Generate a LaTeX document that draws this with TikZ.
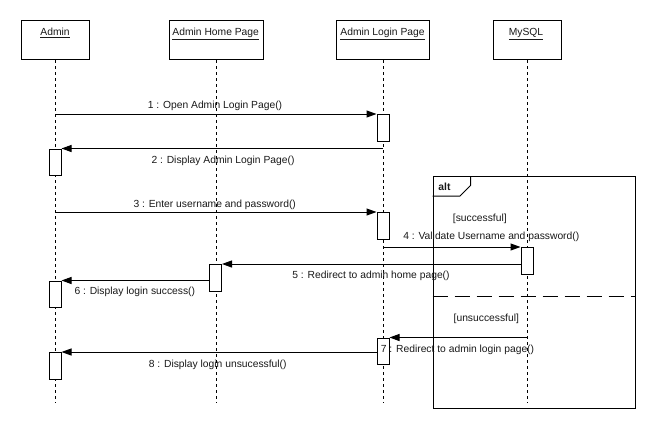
\documentclass[tikz,border=0pt]{standalone}
\usepackage{fontspec}
\setmainfont{Liberation Sans}
\usetikzlibrary{arrows.meta}
\begin{document}
\begin{tikzpicture}[x=1pt,y=-1pt,
  every node/.style={font=\fontsize{10.3}{12}\selectfont, text=black!90},
  head/.style={draw, line width=1pt, fill=white, minimum height=39pt, inner sep=0pt, anchor=north},
  headtext/.style={anchor=base, inner sep=0pt},
  lifeline/.style={line width=0.8pt, dash pattern=on 3pt off 3pt},
  act/.style={draw, line width=1pt, fill=white, minimum width=12pt, minimum height=26.5pt, inner sep=0pt, anchor=north},
  msg/.style={line width=1pt, -{Triangle[length=10pt,width=7pt]}},
  lbl/.style={anchor=base, inner sep=0pt},
  frame/.style={draw, line width=1pt}]
\useasboundingbox[fill=white] (0,0) rectangle (655,428);

% lifeline heads
\node[head, minimum width=68pt] (admin) at (55,20) {};
\node[head, minimum width=94pt] (home)  at (216.5,20) {};
\node[head, minimum width=93pt] (login) at (383,20) {};
\node[head, minimum width=68pt] (mysql) at (527.5,20) {};
\node[headtext] (tadmin) at (55,35.5)    {\underline{Admin}};
\node[headtext] (thome)  at (215.7,35.5) {\underline{Admin Home Page}};
\node[headtext] (tlogin) at (382.5,35.5) {\underline{Admin Login Page}};
\node[headtext] (tmysql) at (526,35.5)   {\underline{MySQL}};

% lifelines
\coordinate (adminEnd) at (55,403);
\coordinate (homeEnd)  at (216.5,403);
\coordinate (loginEnd) at (383,403);
\coordinate (mysqlEnd) at (527.5,403);
\draw[lifeline] (admin.south) -- (adminEnd);
\draw[lifeline] (home.south)  -- (homeEnd);
\draw[lifeline] (login.south) -- (loginEnd);
\draw[lifeline] (mysql.south) -- (mysqlEnd);

% combined fragment
\node[frame, anchor=north west, minimum width=202.5pt, minimum height=232pt, inner sep=0pt] (alt) at (432.5,176) {};
\draw[frame] ([shift={(0,20)}]alt.north west) -- ++(27.5,0) -- ++(10.5,-10.5) -- ++(0,-9.5);
\node[anchor=base, inner sep=0pt, font=\fontsize{10.3}{12}\selectfont\bfseries] (altlbl) at (444.5,190.4) {alt};
\coordinate (sep) at (0,296.5);
\draw[line width=1pt, dash pattern=on 15pt off 7pt] (alt.west |- sep) -- (alt.east |- sep);
\node[lbl] (g1) at (479.8,221.4) {[successful]};
\node[lbl] (g2) at (486.3,321.7) {[unsuccessful]};

% activations
\node[act] (a1) at (383,114) {};
\node[act] (a2) at (55,148.5) {};
\node[act] (a3) at (383,212) {};
\node[act] (a4) at (527,247) {};
\node[act] (a5) at (215.5,264) {};
\node[act] (a6) at (55,280.5) {};
\node[act] (a7) at (383,337.5) {};
\node[act] (a8) at (55,352) {};

% messages
\draw[msg] (admin.south |- a1.north) -- (a1.north west);
\draw[msg] (login.south |- a2.north) -- (a2.north east);
\draw[msg] (admin.south |- a3.north) -- (a3.north west);
\draw[msg] (login.south |- a4.north) -- (a4.north west);
\draw[msg] (a4.west |- a5.north) -- (a5.north east);
\draw[msg] (a5.west |- a6.north) -- (a6.north east);
\draw[msg] (mysql.south |- a7.north) -- (a7.north east);
\draw[msg] (a7.west |- a8.north) -- (a8.north east);

% message labels
\node[lbl] (l1) at (215,108.7)   {1 : Open Admin Login Page()};
\node[lbl] (l2) at (223,163.7)   {2 : Display Admin Login Page()};
\node[lbl] (l3) at (214.7,207)   {3 : Enter username and password()};
\node[lbl] (l4) at (491.3,239.7) {4 : Validate Username and password()};
\node[lbl] (l5) at (371,278.7)   {5 : Redirect to admih home page()};
\node[lbl] (l6) at (134.8,294.4) {6 : Display login success()};
\node[lbl] (l7) at (457.5,352)   {7 : Redirect to admin login page()};
\node[lbl] (l8) at (217.7,367)   {8 : Display login unsucessful()};
\end{tikzpicture}
\end{document}
